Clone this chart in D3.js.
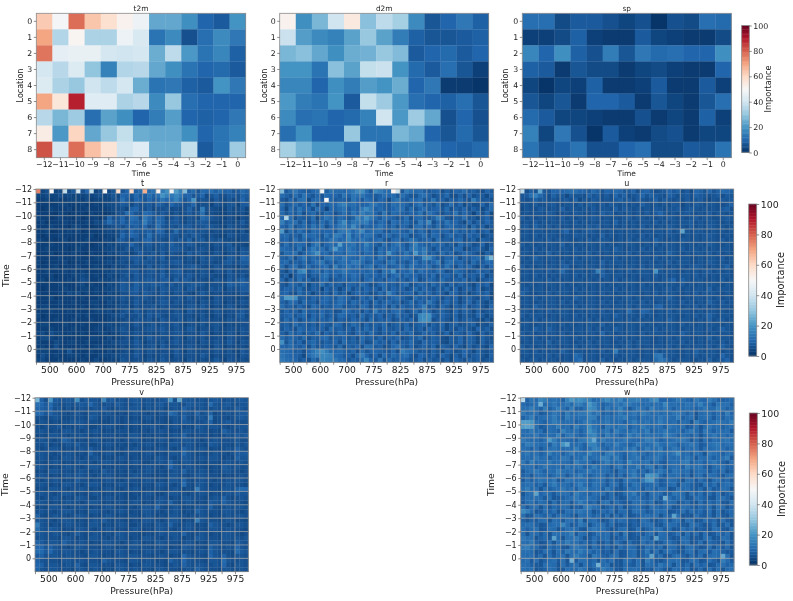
<!DOCTYPE html>
<html>
<head>
<meta charset="utf-8">
<script src="https://cdn.jsdelivr.net/npm/d3@7"></script>
<style>
body { margin: 0; background: #fff; }
svg { filter: blur(0.35px); }
text { font-family: "DejaVu Sans", sans-serif; fill: #1c1c1c; }
</style>
</head>
<body>
<script>
var hours = [-12, -11, -10, -9, -8, -7, -6, -5, -4, -3, -2, -1, 0];
var locations = [0, 1, 2, 3, 4, 5, 6, 7, 8];
var levelLabels = ['', '500', '', '600', '', '700', '', '775', '', '825', '', '875', '', '925', '', '975'];
var barTicks = [0, 20, 40, 60, 80, 100];
var barStops = ['#053061', '#2166ac', '#4393c3', '#92c5de', '#d1e5f0', '#f7f7f7', '#fddbc7', '#f4a582', '#d6604d', '#b2182b', '#67001f'];

// surface fields, row = location, column = hour
var t2m = [
    [63, 49, 78, 64, 58, 52, 47, 24, 24, 19, 10, 8, 20],
    [70, 35, 51, 34, 34, 47, 42, 13, 18, 6, 12, 18, 14],
    [77, 45, 46, 46, 41, 40, 41, 25, 37, 21, 13, 17, 9],
    [41, 36, 43, 30, 16, 35, 36, 24, 19, 13, 10, 11, 8],
    [43, 34, 31, 40, 37, 41, 25, 13, 14, 9, 8, 20, 14],
    [70, 56, 89, 44, 44, 34, 36, 18, 31, 12, 10, 10, 10],
    [36, 27, 32, 12, 23, 19, 10, 15, 22, 10, 9, 10, 14],
    [54, 21, 61, 24, 31, 38, 25, 24, 24, 19, 10, 13, 16],
    [82, 41, 78, 65, 57, 40, 44, 25, 25, 38, 8, 13, 32]
];
var d2m = [
    [52, 19, 27, 40, 55, 29, 37, 33, 18, 7, 10, 14, 9],
    [39, 22, 18, 16, 23, 31, 23, 15, 9, 7, 7, 8, 9],
    [27, 29, 24, 19, 25, 26, 31, 28, 8, 10, 11, 8, 10],
    [20, 20, 13, 29, 23, 38, 39, 20, 11, 8, 12, 7, 3],
    [17, 17, 10, 19, 15, 22, 20, 25, 10, 14, 2, 2, 1],
    [21, 15, 13, 20, 8, 38, 32, 21, 12, 10, 9, 12, 7],
    [18, 12, 13, 10, 11, 16, 40, 21, 32, 24, 6, 10, 6],
    [12, 19, 10, 10, 31, 13, 13, 27, 24, 10, 7, 11, 7],
    [33, 27, 21, 21, 12, 35, 10, 18, 18, 14, 10, 9, 11]
];
var sp = [
    [12, 12, 5, 8, 8, 6, 4, 6, 1, 6, 5, 12, 11],
    [3, 3, 5, 9, 3, 2, 2, 8, 4, 3, 2, 2, 5],
    [17, 10, 19, 9, 6, 15, 7, 14, 11, 12, 10, 10, 19],
    [9, 8, 2, 7, 5, 5, 2, 4, 5, 3, 2, 2, 10],
    [4, 1, 4, 3, 9, 2, 2, 3, 8, 2, 2, 8, 3],
    [7, 4, 7, 2, 10, 10, 8, 2, 7, 4, 2, 7, 12],
    [11, 8, 4, 4, 3, 2, 2, 6, 2, 4, 2, 9, 3],
    [16, 4, 14, 6, 1, 8, 3, 2, 5, 6, 2, 4, 4],
    [13, 7, 9, 13, 6, 6, 10, 12, 5, 5, 8, 7, 13]
];

// pressure fields: one string per row, one base 36 digit per cell, split by level.
// the cells are about 4px wide and blurred in the source, so only the peaks and the
// broad bright/dark regions are really read; cell to cell texture is a rough estimate.
// values above 35 don't fit a digit and sit in the peaks lists as [row, column, value]
var tRows = [
    'a46 b45 b58 b6a b46 b57 b7a b9b bbd bfj bmg s9b 7ba c9b 9a7 8b9',
    '445 446 454 445 456 457 5a9 7b8 8c9 ckg ehe 9a7 8a5 796 688 698',
    '334 343 344 435 344 446 6c8 6a9 7a8 9da cgb 7ak 676 586 575 6a7',
    '333 334 433 343 343 455 687 586 786 986 a87 67a 566 476 577 488',
    '323 433 342 334 333 345 564 9a6 685 667 565 696 5f6 654 475 574',
    '333 324 323 332 433 234 66b a76 ba8 686 575 686 7c5 654 465 564',
    '433 234 332 423 342 4a6 7a6 cb6 ea7 a95 686 576 5b9 765 465 365',
    '342 333 433 334 354 7b8 7a7 a98 f97 b96 786 576 787 554 565 585',
    '333 433 324 433 233 456 768 897 a67 c86 767 786 678 765 476 565',
    '334 223 343 423 333 454 586 a87 896 a95 6b6 687 676 565 565 474',
    '323 334 333 333 423 344 5a7 a96 7c7 786 875 768 765 654 476 566',
    '432 323 423 334 332 443 786 586 9a6 765 868 695 785 767 555 466',
    '333 433 333 343 234 354 566 a75 786 686 976 687 566 576 685 554',
    '334 333 323 433 333 445 457 586 675 676 887 656 676 465 577 476',
    '233 423 334 332 433 354 565 468 667 585 765 586 765 576 466 587',
    '333 334 333 433 344 343 466 787 586 695 666 575 586 765 587 5a9',
    '423 333 423 334 333 454 565 586 766 576 787 565 476 655 786 688',
    '333 342 333 433 343 335 456 665 585 686 566 678 665 576 565 476',
    '334 333 434 343 333 445 566 785 677 585 788 565 576 466 585 566',
    '333 423 334 454 343 354 467 586 676 696 677 686 576 655 476 575',
    '342 433 343 465 334 445 576 686 787 688 596 875 665 576 586 797',
    '333 334 333 453 433 354 587 697 778 786 867 678 775 666 598 798',
    '323 333 433 344 343 445 587 796 767 587 677 587 565 767 476 688',
    '433 334 354 534 343 354 466 785 876 586 576 654 686 565 565 576',
    '333 423 333 343 334 445 576 576 765 676 667 586 565 476 565 465',
    '333 334 334 333 443 354 465 586 565 687 576 566 476 576 465 576',
    '344 333 333 343 343 344 566 475 667 576 665 577 586 465 576 465',
    '333 433 343 333 344 453 467 586 576 666 576 486 565 576 566 686',
    '423 333 333 434 333 345 575 667 586 765 677 565 575 466 465 785',
    '333 343 334 333 433 344 456 576 675 586 667 576 476 565 576 676',
    '344 333 433 343 334 454 466 586 567 576 686 466 575 676 465 566',
    '333 433 334 333 344 345 576 465 677 686 576 587 466 575 566 576',
    '453 644 343 343 334 434 466 576 565 576 677 566 586 465 576 476',
    '355 434 333 333 443 353 456 475 586 666 576 476 575 566 476 565',
    '433 354 344 334 333 445 566 586 466 575 686 566 476 576 586 476',
    '343 363 333 343 344 344 465 576 567 486 566 576 565 476 465 565',
    '444 334 373 333 433 353 456 476 576 566 586 476 566 576 575 486',
    '364 343 344 434 334 445 566 586 465 576 476 566 586 465 566 476',
    '453 334 333 343 353 344 476 566 576 586 566 476 565 586 476 565'
];
var tPeaks = [[0, 0, 75], [0, 3, 50], [0, 6, 38], [0, 9, 40], [0, 12, 38], [0, 15, 50], [0, 18, 58], [0, 21, 60], [0, 24, 68], [0, 27, 52], [0, 30, 48]];

var rRows = [
    's8b ea9 8ac f9d bba cei jc8 ifc ba9 8fc bc9 89a 697 a9c 897 6a8',
    'b97 c8d 97a 7ba a8d 9dc da9 89c ab8 c97 7bc 968 8b6 696 a68 859',
    '86a 7cd 5ab 8ca 899 7da 8ca 7a9 5bd 98b ac7 8d8 969 8b8 6f9 786',
    'c79 b8a 7d6 a9b aeg bca 9ad da9 8cb b97 ad8 97b 68c 7a5 866 a6c',
    'a5b 8d9 a6c 94a 9bd 8b9 eie 9b9 8ac c7b 7ac 89a 7b6 97a 697 58b',
    'b7a 8c6 9b7 7ba 69c 8da fcd a7d 7ba 98a 9d7 ca8 698 d7a 849 6a5',
    'amc 698 7c5 9db 8ba 79g dje b8c a97 8c6 ab8 79f b76 98c 785 8a6',
    'f9b c7b 6a7 b8c 8di 9dd efa 8ba 6ca 9b8 7ea h6a 8d9 a75 a69 7a8',
    'a8d 79b 8d9 c6a aef bic 8b9 ada 8b7 a96 bc8 a7b 7ab 989 5b7 958',
    'l6b 8c9 7ba 9aa 8de fad hab bc8 7ba 98d 8b9 6a9 9a7 b89 7a6 8a5',
    'ab8 97d ab9 7d9 fea h9c adc 97a b89 ab6 89c 7ba 69b 896 a89 578',
    '9a7 c8b 7ab 89d dab gba db9 ac8 6ab 79d b89 a6c 897 ab6 795 986',
    '8c8 9ba 6be 7ac amb cd9 agb 97c 8bd a7b ga9 8b9 a79 6b8 967 a58',
    'ba9 8d7 afb c8d lca eb9 ada 6b9 9ca b8d fbe 96a 897 ba5 689 75a',
    '7ba c69 bej ab8 ab9 dca 8ba 7c9 ja8 9d9 lbf 897 b8a 68a 986 597',
    '98c 6ae 8b9 7cd bae ba9 dab 8da 7b9 bca 89i ib8 7a9 c69 8ab 7ir',
    'ab7 98b 7ac d8a 8bc aed b89 a97 bd8 97a c8b 8ae 6bc 9a8 6b8 8ba',
    'b6a c79 b89 ac7 f9b dac 8bd 7ab 89a c8d a9a b79 8d9 6a8 a75 96a',
    '85a 8gj 7ab 8c9 abe ba9 a9b 96c bj8 a9d 8ca 98b a67 b98 67a 896',
    '793 8ba 698 bd8 a8b 9ca 7b9 a8b 7ac 8b9 a79 8b6 9a8 7b6 897 a58',
    'a59 7c8 967 ab6 89a 8b9 6ac 897 ab8 97a c68 a97 b87 98a 695 789',
    '86a 97b 598 c7a 896 a98 b96 7ab 897 ac6 8a9 7b8 96a 798 759 8a5',
    '8a9 8b7 698 4a7 958 b69 7a8 96b 7a8 968 b7a 869 7b6 a58 96a 576',
    '9a7 6b8 958 796 b79 58a 896 7b8 ga7 89a 6b8 a79 85a 968 579 8a5',
    'bll j89 7a8 9b9 8ca 967 a8b 697 8ab 976 b89 7a8 697 a58 976 895',
    '97b a6b 896 aa8 9ca 7b9 8a6 b79 a89 68b 7a8 d96 8a7 958 a69 758',
    'b89 7a8 6b9 798 ab7 897 ba6 98a 6b7 a89 8af 796 a85 97a 689 75a',
    '7a8 96b 897 a89 67b a89 6a7 f89 7ab 968 b7e a68 975 a69 859 678',
    '89a 79b 6a8 b79 7ba 896 b79 8a6 97b 896 7hi j97 a86 958 76a 858',
    '7b8 a69 8b7 98b 698 7a8 96b 798 a68 97a 6hj i68 975 a68 976 585',
    '897 b89 796 a87 ba6 8b9 6a7 98b 689 7a6 89a 697 a58 967 895 769',
    '7a8 6b9 8a7 96b 897 96a 7b8 96a 879 6b8 796 a87 958 698 75a 796',
    '96b 8a7 98b 6a8 7b9 86a 97b 869 7a6 98b 67a 896 7a5 986 a75 968',
    'b8a 97b 698 ab7 98a 796 b89 7a6 98a 679 8b6 798 658 7a6 985 976',
    'j7b 8a6 9b8 798 a6b 897 a67 b89 6a7 98b 76a 898 658 7a6 985 967',
    'a9b 98a 6b7 8a9 7b6 98a 6cb 896 7ac 97a 689 7a5 986 a75 968 75a',
    'cba 896 adg jfb ab9 8a6 b79 a98 7a6 fcb 978 697 598 67a 859 768',
    'dba 985 bef hhg ba8 96b fa7 a6b 8b9 bc8 6a9 796 a85 96a 689 759',
    'ecb a79 6b8 hgf eba 798 bha 8e7 b89 a97 8a6 978 695 a86 979 678'
];
var rPeaks = [[0, 9, 48], [0, 25, 52], [0, 26, 38], [2, 10, 50], [6, 1, 34]];

var uRows = [
    'z69 7o8 7aa abc caa 8b9 7a9 ba8 8a6 9a8 678 a89 685 a97 a79 ba9',
    '78c gb8 697 858 776 978 686 a79 678 a79 876 986 786 987 678 687',
    '767 978 676 786 957 687 676 897 868 767 968 767 686 786 576 878',
    '676 866 786 677 686 876 868 767 676 976 767 687 576 876 776 679',
    '576 687 676 967 767 686 776 968 767 676 876 778 678 767 676 896',
    '676 776 875 676 876 676 978 676 767 686 8a7 676 787 676 867 767',
    '867 676 776 867 676 787 676 767 867 767 676 876 767 867 766 787',
    '676 867 676 776 867 676 776 967 676 776 867 676 778 676 776 676',
    '786 976 867 676 776 878 676 767 676 867 676 876 768 676 876 767',
    '676 776 676 8a6 767 876 767 676 767 676 776 867 n76 776 676 767',
    '776 867 776 676 877 676 967 676 776 867 676 776 676 767 876 676',
    '676 776 867 776 676 867 776 676 867 776 976 676 876 767 776 867',
    '867 676 776 967 676 776 867 676 776 676 867 776 767 676 876 676',
    '676 867 676 776 867 676 776 976 676 867 676 776 867 767 676 776',
    '776 676 967 676 776 867 676 776 867 676 776 976 676 776 867 676',
    '767 976 776 676 867 776 676 867 676 776 867 676 776 676 776 867',
    '676 776 676 867 776 676 967 776 676 767 676 867 776 676 876 767',
    '867 676 776 896 676 776 867 676 776 867 776 676 767 876 676 796',
    '676 776 867 b76 776 67g 967 676 867 776 k76 776 676 767 867 676',
    '776 867 676 776 867 676 976 776 676 776 867 676 776 867 676 776',
    '676 776 867 676 776 767 676 867 776 676 767 8a6 976 776 676 867',
    '767 676 776 867 676 776 867 676 776 867 676 776 867 676 776 676',
    '786 776 676 776 867 676 776 867 676 776 767 867 676 776 967 776',
    '976 676 867 776 676 776 867 676 776 676 867 776 676 867 776 676',
    '676 867 776 676 976 776 676 767 867 676 776 976 676 776 867 676',
    '776 676 776 867 676 776 867 676 776 867 676 776 867 676 976 867',
    '676 976 776 676 867 776 676 776 867 776 9a6 776 676 867 676 776',
    '776 676 867 776 676 776 867 676 b76 a97 676 867 776 676 776 767',
    '867 776 676 776 867 676 776 976 776 867 676 776 676 867 976 776',
    '676 867 776 676 776 867 676 776 867 676 776 976 776 676 967 867',
    '776 676 776 867 676 776 967 676 776 867 676 776 867 676 776 676',
    '676 976 976 676 776 867 676 976 776 676 867 776 676 776 867 976',
    '867 676 776 867 676 776 a67 676 776 867 776 676 976 776 676 776',
    '776 867 676 776 867 676 776 867 676 776 676 867 776 676 967 776',
    '676 776 967 776 676 867 776 676 867 776 676 776 867 676 776 867',
    '867 676 776 676 867 776 676 767 867 676 776 867 676 776 867 976',
    '776 867 676 976 776 676 867 f76 776 676 867 776 676 976 776 676',
    '676 776 867 676 b96 776 676 867 776 676 de8 776 676 867 776 a76',
    '767 867 776 676 ac6 776 967 676 867 776 bec 867 776 676 967 8a6'
];
var uPeaks = [[0, 0, 36]];

var vRows = [
    'r96 l87 787 j68 776 h78 676 787 676 678 j6n 877 676 787 676 787',
    'ca8 b76 676 787 a76 676 876 677 676 786 776 687 776 b76 786 677',
    'a98 a67 575 676 676 865 676 777 576 675 676 976 676 676 766 876',
    'ba7 976 656 765 776 676 565 676 656 576 b96 876 967 956 676 788',
    '665 676 556 665 875 656 656 565 676 565 676 965 776 f56 656 787',
    '576 565 667 776 665 556 656 676 565 665 576 876 667 956 786 666',
    '656 667 565 676 556 676 556 565 667 656 676 565 876 776 656 777',
    '676 565 776 656 676 565 666 565 656 676 565 776 676 565 976 676',
    '565 776 656 676 565 666 565 776 565 665 676 965 666 565 676 878',
    '676 656 986 565 676 565 656 676 565 676 566 776 656 676 666 766',
    '667 565 676 866 556 676 565 656 676 565 776 676 565 876 665 767',
    '656 776 565 676 866 565 656 676 565 676 656 976 676 565 676 976',
    '776 656 676 565 965 676 556 665 676 565 776 a76 565 676 656 888',
    '676 565 776 656 676 565 676 565 665 776 656 876 676 776 565 977',
    '665 676 565 676 656 776 565 676 556 676 965 776 565 665 676 676',
    '776 565 676 656 776 565 666 565 676 656 a76 676 665 565 876 766',
    '565 776 665 676 565 866 565 656 676 565 676 966 676 565 776 656',
    '676 565 676 776 656 676 565 676 665 565 776 656 776 665 565 676',
    '656 676 565 866 565 676 556 665 676 565 776 965 676 656 676 776',
    '676 565 776 656 776 565 676 565 665 776 656 b65 776 565 676 665',
    '565 776 656 676 565 676 556 676 565 665 676 565 f76 665 776 9ba',
    '676 656 776 565 676 565 665 565 676 556 776 656 676 565 676 877',
    '656 676 565 776 556 676 565 556 665 676 565 776 665 676 965 676',
    '776 565 676 656 776 565 665 676 565 776 965 676 565 876 976 665',
    '565 776 656 676 565 676 565 656 776 a65 676 565 776 965 676 776',
    '676 656 776 565 776 656 676 565 776 656 676 565 976 665 776 656',
    '965 676 656 776 565 676 565 665 676 565 776 656 676 565 676 776',
    '776 656 776 565 676 865 665 565 776 656 776 565 f76 665 676 565',
    'f76 565 676 665 776 565 676 556 665 776 965 676 565 976 656 776',
    'b76 876 565 776 656 676 565 676 565 776 656 676 565 776 676 665',
    '776 676 656 865 676 565 776 665 565 676 776 965 676 565 776 656',
    '676 665 776 565 776 656 676 565 776 656 676 565 876 665 776 767',
    '986 776 976 676 565 776 656 676 565 776 665 676 565 776 665 876',
    'aa7 976 656 776 665 676 565 776 665 676 565 876 665 976 676 a76',
    'bb8 a76 776 656 676 665 776 565 676 656 776 665 676 976 665 b87',
    '896 776 676 665 776 565 676 776 665 676 565 a76 665 a76 965 776',
    '976 665 776 676 665 976 665 776 676 565 976 a76 665 776 b76 676',
    'a96 776 676 965 776 665 776 565 776 665 676 976 776 676 a65 776',
    '976 776 665 776 676 565 776 676 665 776 665 676 976 665 776 676'
];
var vPeaks = [];

var wRows = [
    'z9d bhf cdc 9gl ijh gbc fif ehc ffg cch jaa abe ca9 eba fc9 9ab',
    'b9b cpb ceb ceb ffc lgc 9bc ecf ecb bcb cbh ccb bdc cgb b8d cc9',
    'ccf b9f 9cf c9f 99c jhc 9eb cgb 8be c9f cbe c9c bcb 9be bbf c9b',
    'ebc c89 bec 9fb cee gce 9b9 beb ceb fdb cbc bde c9c 7bc c9c 9fa',
    '9cf 9bc cfb 9fc bcc gf9 bdb cdf bc9 cbc bec cbf 9bc 7bc c8c 9cb',
    'mml cb9 cfd bcc 9be fcb ceb bc9 cfb cdb cfc bc9 cb7 fb9 bce cbf',
    'mnm c89 cbf bc9 fbc idb 8ec bde 9cb fcb cc9 ecb c89 c7b ebc 9bc',
    'cbe bc8 cb9 gcb c9c jfb ce9 fcb beb cf9 bce cbc 9ce b8e c9c bc8',
    'bcc eab cbg 9de b9b ghc 9fc c9b fce bdc cbf ec9 cb9 c7b ceb cac',
    'ecb b9c lfb cba 9de hob fcc bce cba cfe c9b bcd ec8 b7c 9cb cdb',
    'bfe cbc 9fc kob bc9 ggc 9cb fcb 9be cbc fcb dc9 bce c89 cde bcc',
    'cb9 c8b cdb bcb fb9 cgf b9c cbe cf9 bfc cf9 bec 9cb c8c bcd c9b',
    'ceb c9b fbc 9ce bcb gcb 9ef cb9 ceb c9b cdb cei bc9 cb7 ecb 9cc',
    'bcb ebc 9cb ed9 cbf bcc gfb fb8 cde 9bc ec9 cbc beb 8cb c9b cf8',
    'e9f bcc ebc cb9 fcc b89 cfb bc9 gcb cd9 c98 bcb ef9 bc9 ceb 97c',
    'bcc 9be cbc 9eb cd9 bfb cb8 ce9 cbf 9de 8c8 bcc 9fb cd9 8bc c9a',
    '8bc ec9 cbf cbc 9bc ebc cb9 7cb ce9 b8c ceb 9dc bc8 bcb 8b9 c79',
    '9b8 ccb 9bd c8b cfb 9bc c8b 8c8 cfb 9lk ib8 cbc 9c7 bc8 cb9 8bc',
    '8c9 bdc be8 9dc bcc 9bc c8b 97c cb9 ekl c89 cb9 7cb 8c9 7bc 9b8',
    'bcc 9b8 cfb cb9 cfb 9dc b8c c7b 9dc 9ab c89 bc7 cb9 87c 9c8 bcb',
    'cfb c7c 9bc ebc 9ef bcc 9eb 879 cbc 8cb 9cb 78c bc9 8b7 c89 cb7',
    '7bc nac b8b cc9 fcb 9cb c8b 78b cf9 b7c cb8 9dc b7c 9c8 b8c 79b',
    '9cb cb8 c78 9bc ebc cb9 78b 978 cbc 98b c8p c9b c78 cb9 87c c97',
    '8bc 9cb 7c8 bc8 cfc 9b7 cd8 b98 8cb c9c 78c cb7 9b8 7c8 b9c 87c',
    'c8b c7c 8b9 cb7 98e fcb 79b 8c7 9bc 97c b9b c78 cb9 8b9 c7c b7a',
    'ifb 78c 9c7 8cb cec c79 b9c 7bb 7cc b89 cbc 789 c8b 9b8 c7c 79b',
    'c78 cb9 c8b cb9 7cb c9b 8c7 b8c 789 bcb c7b 9nc 787 c98 b7c 87b',
    '979 8bc 7cb 8cc 9f7 bc9 78c 9cb 897 cb8 79c 8bc 7cb 78c 9b7 c87',
    'bcc 978 bcc hc8 9ec 7bc c8b 789 798 bcc 87b cb9 87c b97 8c7 8c7',
    'c9b c78 cb7 9cc b87 cec c97 8bc 78c 79b cc8 b78 c9b 798 7cb 87c',
    'c7c b8b 7cc bcf 8cb 79c bc8 b7e 789 8bc 7cb 89c 7c8 b7c 78b 9c7',
    'ecc 79b 8nb 7cc eb7 8c9 bc7 89c 787 cb8 nbb 978 cb7 87c b78 cb7',
    'cbe 978 c7c bfc c9b 8c7 8b7 c97 b87 c9b 78b c97 bc7 8c7 b98 7c8',
    'efc b87 c9b 87c ecb 7c9 8b8 7c9 cb7 8cb 9c7 cb8 7bc 978 c7b 8b7',
    'ccb 78c b7c 9ec bfc c9b 897 c78 bc7 9e8 c7b c97 8bc 7bc 8cb 978',
    'cbc 8b7 c8b c7c fcb 7ec 98b c78 bc7 9bn 9c7 8bc 97b 8c7 bcb oc7',
    'bc8 c79 bc8 c7q 8cc 9b7 c9c 87c b8c 7fb 879 cbc 78c b78 c97 fb8',
    'cb9 87c cb7 c8b c7c 9cq bc7 87b 98c 7cb 9eb c7c 8b7 c9b 78b c9b',
    'cbc 789 cb7 8cb bec 79c fcb 87c bcb 798 cb8 7cb 9c7 8b7 c8c 7bc'
];
var wPeaks = [[0, 0, 36]];

var importance = d3.scaleLinear().domain(d3.range(0, 101, 10)).range(barStops).clamp(true);
var svg = d3.select('body').append('svg').attr('width', 793).attr('height', 601);

function parseRows(rows, peaks) {
    var cells = rows.map(function (row) {
        return row.replace(/ /g, '').split('').map(function (c) { return parseInt(c, 36); });
    });
    peaks.forEach(function (p) { cells[p[0]][p[1]] = p[2]; });
    return cells;
}

function flatten(cells) {
    var out = [];
    cells.forEach(function (row, r) {
        row.forEach(function (v, c) { out.push({ r: r, c: c, v: v }); });
    });
    return out;
}

function styleAxis(sel, size) {
    sel.selectAll('.domain').remove();
    sel.selectAll('.tick line').attr('stroke', '#444').attr('stroke-width', 0.6);
    sel.selectAll('.tick text').attr('font-size', size).attr('font-family', 'DejaVu Sans');
}

function frame(g, w, h) {
    g.append('rect').attr('width', w).attr('height', h)
        .attr('fill', 'none').attr('stroke', '#8a8a8a').attr('stroke-width', 0.8);
}

function minus(v) { return String(v).replace('-', '\u2212'); }

function surfacePanel(opt) {
    var w = opt.x1 - opt.x0, h = 144.4;
    var g = svg.append('g').attr('transform', 'translate(' + opt.x0 + ',13.3)');
    var x = d3.scaleBand().domain(hours).range([0, w]);
    var y = d3.scaleBand().domain(locations).range([0, h]);
    g.selectAll('rect.cell').data(flatten(opt.data)).enter().append('rect')
        .attr('class', 'cell')
        .attr('x', function (d) { return x(hours[d.c]); })
        .attr('y', function (d) { return y(locations[d.r]); })
        .attr('width', x.bandwidth() + 0.3)
        .attr('height', y.bandwidth() + 0.3)
        .attr('fill', function (d) { return importance(d.v); });
    frame(g, w, h);

    var ax = g.append('g').attr('transform', 'translate(0,' + h + ')')
        .call(d3.axisBottom(x).tickSize(2.5).tickPadding(1.5).tickFormat(minus));
    styleAxis(ax, 7.8);
    var ay = g.append('g').call(d3.axisLeft(y).tickSize(2.5).tickPadding(1.5));
    styleAxis(ay, 7.8);

    g.append('text').attr('x', w / 2).attr('y', -2.5).attr('text-anchor', 'middle')
        .attr('font-size', 7.4).text(opt.title);
    g.append('text').attr('x', w / 2).attr('y', 162.5).attr('text-anchor', 'middle')
        .attr('font-size', 7.5).text('Time');
    g.append('text').attr('transform', 'translate(' + opt.labelX + ',' + (h / 2) + ') rotate(-90)')
        .attr('text-anchor', 'middle').attr('font-size', 8).text('Location');
}

function pressurePanel(opt) {
    var w = opt.x1 - opt.x0, h = opt.y1 - opt.y0;
    var g = svg.append('g').attr('transform', 'translate(' + opt.x0 + ',' + opt.y0 + ')');
    var cols = d3.scaleBand().domain(d3.range(opt.data[0].length)).range([0, w]);
    var rows = d3.scaleBand().domain(d3.range(opt.data.length)).range([0, h]);
    var x = d3.scaleLinear().domain([0, levelLabels.length]).range([0, w]);
    var y = d3.scaleLinear().domain([hours[0], hours[hours.length - 1] + 1]).range([0, h]);

    g.selectAll('rect.cell').data(flatten(opt.data)).enter().append('rect')
        .attr('class', 'cell')
        .attr('x', function (d) { return cols(d.c); })
        .attr('y', function (d) { return rows(d.r); })
        .attr('width', cols.bandwidth() + 0.3)
        .attr('height', rows.bandwidth() + 0.3)
        .attr('fill', function (d) { return importance(d.v); });

    g.selectAll('line.gx').data(d3.range(1, levelLabels.length)).enter().append('line')
        .attr('x1', x).attr('x2', x).attr('y1', 0).attr('y2', h)
        .attr('stroke', '#a9a9a9').attr('stroke-width', 0.7);
    g.selectAll('line.gy').data(hours.slice(1)).enter().append('line')
        .attr('y1', y).attr('y2', y).attr('x1', 0).attr('x2', w)
        .attr('stroke', '#a9a9a9').attr('stroke-width', 0.7);
    frame(g, w, h);

    var ax = g.append('g').attr('transform', 'translate(0,' + h + ')')
        .call(d3.axisBottom(x).tickValues(d3.range(levelLabels.length)).tickSize(2.5).tickPadding(1.5)
            .tickFormat(function (d) { return levelLabels[d]; }));
    styleAxis(ax, 9.2);
    var ay = g.append('g').call(d3.axisLeft(y).tickValues(hours).tickSize(2.5).tickPadding(1.5).tickFormat(minus));
    styleAxis(ay, 8);

    g.append('text').attr('x', w / 2).attr('y', -3).attr('text-anchor', 'middle')
        .attr('font-size', 8).text(opt.title);
    g.append('text').attr('x', w / 2).attr('y', h + 22.5).attr('text-anchor', 'middle')
        .attr('font-size', 9.2).text('Pressure(hPa)');
    if (opt.labelX) {
        g.append('text').attr('transform', 'translate(' + opt.labelX + ',' + (h / 2) + ') rotate(-90)')
            .attr('text-anchor', 'middle').attr('font-size', 9.2).text('Time');
    }
}

function colorBar(opt) {
    var g = svg.append('g').attr('transform', 'translate(' + opt.x + ',' + opt.y0 + ')');
    var h = opt.y1 - opt.y0;
    var y = d3.scaleLinear().domain([0, 100]).range([h, 0]);
    g.selectAll('rect.step').data(d3.range(0, 100)).enter().append('rect')
        .attr('class', 'step')
        .attr('x', 0).attr('width', opt.w)
        .attr('y', function (d) { return y(d + 1); })
        .attr('height', h / 100 + 0.4)
        .attr('fill', function (d) { return importance(d + 0.5); });
    frame(g, opt.w, h);
    var ay = g.append('g').attr('transform', 'translate(' + opt.w + ',0)')
        .call(d3.axisRight(y).tickValues(barTicks).tickSize(2.5).tickPadding(1.5));
    styleAxis(ay, opt.tick);
    g.append('text').attr('transform', 'translate(' + opt.labelX + ',' + (h / 2) + ') rotate(-90)')
        .attr('text-anchor', 'middle').attr('font-size', opt.label).text('Importance');
}

surfacePanel({ title: 't2m', data: t2m, x0: 36.3, x1: 245.7, labelX: -13.5 });
surfacePanel({ title: 'd2m', data: d2m, x0: 279.7, x1: 488.7, labelX: -13 });
surfacePanel({ title: 'sp', data: sp, x0: 522.3, x1: 731.3, labelX: -14 });
colorBar({ x: 741.7, w: 7.6, y0: 25.5, y1: 152.5, tick: 7.9, label: 8.2, labelX: 29.5 });

pressurePanel({ title: 't', data: parseRows(tRows, tPeaks), x0: 36, x1: 249.3, y0: 189, y1: 362.3, labelX: -27 });
pressurePanel({ title: 'r', data: parseRows(rRows, rPeaks), x0: 279.7, x1: 493.7, y0: 189, y1: 362.3 });
pressurePanel({ title: 'u', data: parseRows(uRows, uPeaks), x0: 520, x1: 733.7, y0: 189, y1: 362.3 });
colorBar({ x: 748.7, w: 8, y0: 204, y1: 356, tick: 9.4, label: 9.8, labelX: 35.5 });

pressurePanel({ title: 'v', data: parseRows(vRows, vPeaks), x0: 35, x1: 248.3, y0: 397.7, y1: 571.7, labelX: -27 });
pressurePanel({ title: 'w', data: parseRows(wRows, wPeaks), x0: 520.7, x1: 734, y0: 397.7, y1: 571.7, labelX: -27 });
colorBar({ x: 749.3, w: 8, y0: 413, y1: 565, tick: 9.4, label: 9.8, labelX: 35.5 });
</script>
</body>
</html>
